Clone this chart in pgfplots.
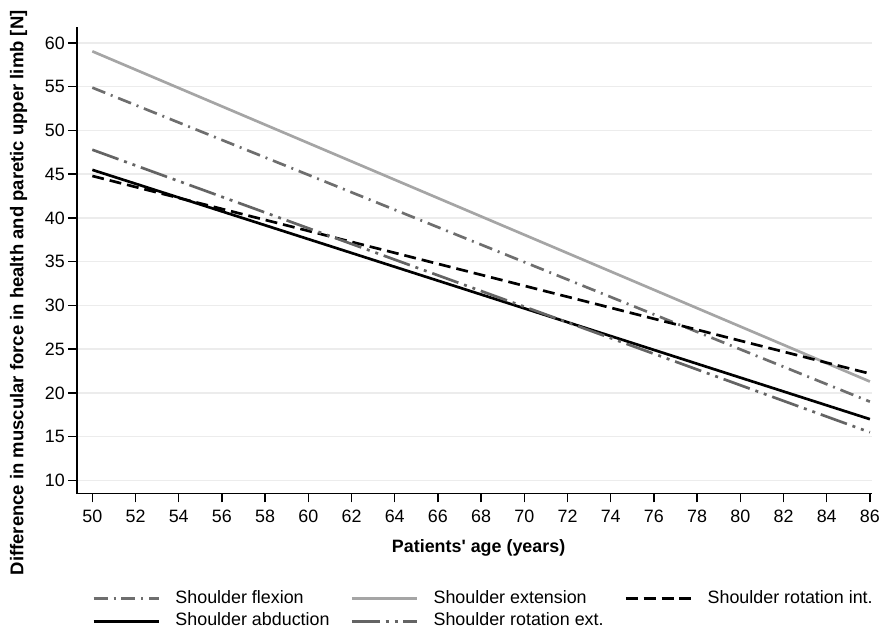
\documentclass[border=0pt]{standalone}
\usepackage{pgfplots}
\pgfplotsset{compat=1.18}
\usepackage{fontspec}
\setmainfont{Liberation Sans}
\newfontfamily\plainfont{Liberation Sans}
\definecolor{cflex}{RGB}{110,110,110}
\definecolor{cext}{RGB}{165,165,165}
\definecolor{crext}{RGB}{100,100,100}
\definecolor{cgrid}{RGB}{236,236,236}
\begin{document}
\begin{tikzpicture}
\begin{axis}[
  scale only axis,
  width=800pt, height=469.7pt,
  xmin=49.3, xmax=86.1,
  ymin=8.5, ymax=61.85,
  axis x line*=bottom, axis y line*=left,
  axis line style={line width=1.5pt, -},
  xtick={50,52,...,86},
  ytick={10,15,...,60},
  tick align=outside,
  major tick length=9pt,
  tick style={line width=1.5pt, black},
  ymajorgrids,
  grid style={cgrid, line width=1.5pt},
  /pgf/number format/assume math mode=true,
  tick label style={font=\fontsize{18}{21}\selectfont},
  xticklabel style={yshift=-4pt},
  xlabel={\textbf{Patients{\plainfont\bfseries'} age (years)}},
  ylabel={\textbf{Difference in muscular force in health and paretic upper limb [N]}},
  xlabel style={font=\fontsize{18}{21}\selectfont, at={(axis description cs:0.505,0)}, anchor=north, yshift=-43pt},
  ylabel style={font=\fontsize{18.6}{21}\selectfont, at={(axis description cs:-0.089,0.43)}, anchor=north},
  legend columns=3,
  legend cell align=left,
  legend style={draw=none, font=\fontsize{18}{21}\selectfont, inner sep=0pt,
    at={(axis description cs:0,0)}, anchor=north west, xshift=15pt, yshift=-96pt,
    nodes={text height=13pt, text depth=4pt, inner ysep=1pt},
    row sep=4pt,
    /tikz/every odd column/.append style={column sep=13pt},
    /tikz/every even column/.append style={column sep=19pt}},
  legend image code/.code={\draw[#1] (0pt,0pt) -- (66pt,0pt);},
]
\addplot[cflex, line width=2.7pt, dash pattern=on 14pt off 6pt on 2pt off 6pt] coordinates {(50,54.9) (86,19.0)};
\addlegendentry{Shoulder flexion}
\addplot[cext, line width=2.7pt] coordinates {(50,59.05) (86,21.3)};
\addlegendentry{Shoulder extension}
\addplot[black, line width=2.7pt, dash pattern=on 12pt off 6pt] coordinates {(50,44.8) (86,22.2)};
\addlegendentry{Shoulder rotation int.}
\addplot[black, line width=2.7pt] coordinates {(50,45.5) (86,17.0)};
\addlegendentry{Shoulder abduction}
\addplot[crext, line width=2.7pt, dash pattern=on 28pt off 6pt on 3pt off 6pt on 3pt off 6pt] coordinates {(50,47.8) (86,15.5)};
\addlegendentry{Shoulder rotation ext.}
\end{axis}
\pgfresetboundingbox
\path ([shift={(-77.7pt,-144.3pt)}]current axis.south west) rectangle ([shift={(811pt,496.7pt)}]current axis.south west);
\end{tikzpicture}
\end{document}
